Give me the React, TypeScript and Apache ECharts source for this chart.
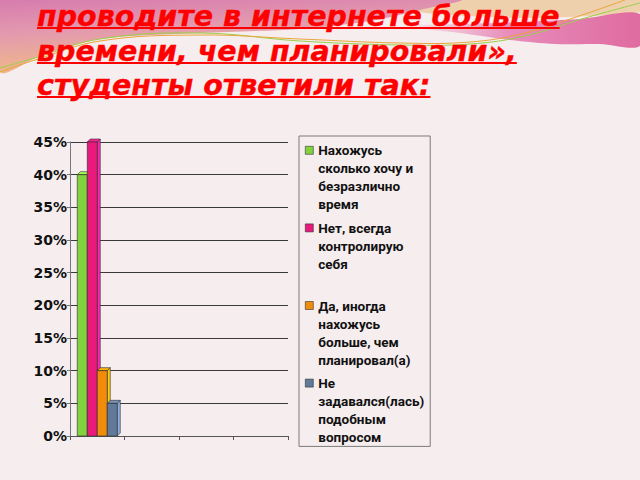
import { useEffect, useRef } from "react";
import * as echarts from "echarts";

// one category holds all four answers, the other slots stay empty
const categories = ["", "", "", ""];
const seriesNames = [
  "Нахожусь\nсколько хочу и\nбезразлично\nвремя",
  "Нет, всегда\nконтролирую\nсебя",
  "Да, иногда\nнахожусь\nбольше, чем\nпланировал(а)",
  "Не\nзадавался(лась)\nподобным\nвопросом",
];
const seriesValues = [40, 45, 10, 5];
const seriesColors = ["#82d13f", "#ea197c", "#f08c0a", "#61799a"];
const titleLines = [
  "проводите в интернете больше",
  "времени, чем планировали»,",
  "студенты ответили так:",
];

const BAR_W = 10;
const DEPTH = 3;
const TITLE_FONT = "italic bold 28.5px 'DejaVu Sans'";

function renderBar(params: any, api: any) {
  const idx = params.seriesIndex;
  const cat = api.value(0);
  const base = api.coord([cat, 0]);
  const top = api.coord([cat, api.value(1)]);
  const x = base[0] - (BAR_W * seriesValues.length) / 2 + idx * BAR_W;
  const y0 = base[1];
  const y1 = top[1];
  const color = seriesColors[idx];
  const stroke = "#2b2b2b";
  return {
    type: "group",
    children: [
      {
        type: "polygon",
        shape: {
          points: [
            [x + BAR_W, y1],
            [x + BAR_W + DEPTH, y1 - DEPTH],
            [x + BAR_W + DEPTH, y0 - DEPTH],
            [x + BAR_W, y0],
          ],
        },
        style: { fill: echarts.color.lift(color, -0.45), stroke, lineWidth: 0.6 },
      },
      {
        type: "polygon",
        shape: {
          points: [
            [x, y1],
            [x + DEPTH, y1 - DEPTH],
            [x + BAR_W + DEPTH, y1 - DEPTH],
            [x + BAR_W, y1],
          ],
        },
        style: { fill: echarts.color.lift(color, -0.25), stroke, lineWidth: 0.6 },
      },
      {
        type: "rect",
        shape: { x, y: y1, width: BAR_W, height: y0 - y1 },
        style: { fill: color, stroke, lineWidth: 0.6 },
      },
    ],
  };
}

export default function App() {
  const chartRef = useRef<HTMLDivElement>(null);

  useEffect(() => {
    if (!chartRef.current) return;
    const chart = echarts.init(chartRef.current, null, { renderer: "svg" });

    // measure title lines so the underlines fit the text
    const ctx = document.createElement("canvas").getContext("2d");
    if (ctx) ctx.font = TITLE_FONT;
    const titleY = [16, 51, 85];
    const titleGraphics: any[] = [];
    titleLines.forEach((line, i) => {
      const w = ctx ? ctx.measureText(line).width : 400;
      titleGraphics.push({
        type: "text",
        x: 37,
        y: titleY[i],
        z: 10,
        style: {
          text: line,
          fill: "#ff0000",
          stroke: "#ff0000",
          lineWidth: 0.4,
          font: TITLE_FONT,
          verticalAlign: "middle",
        },
      });
      titleGraphics.push({
        type: "line",
        z: 10,
        shape: { x1: 37, y1: titleY[i] + 12, x2: 37 + w, y2: titleY[i] + 12 },
        style: { stroke: "#ff0000", lineWidth: 2 },
      });
    });

    const option = {
      animation: false,
      backgroundColor: "#f6edee",
      graphic: [
        {
          type: "polygon",
          z: -5,
          shape: {
            smooth: 0.3,
            points: [
              [0, 0], [460, 0], [420, 10], [370, 21], [300, 29], [200, 33],
              [100, 39], [40, 56], [0, 72],
            ],
          },
          style: {
            fill: new echarts.graphic.LinearGradient(0, 0, 0.25, 1, [
              { offset: 0, color: "#d474ae" },
              { offset: 0.5, color: "#e39aae" },
              { offset: 1, color: "#f0ba86" },
            ]),
          },
        },
        {
          type: "polygon",
          z: -6,
          shape: {
            smooth: 0.3,
            points: [
              [380, 0], [640, 0], [640, 12], [590, 16], [530, 18], [470, 16], [420, 12],
            ],
          },
          style: { fill: "#eed0ac" },
        },
        {
          type: "polygon",
          z: -4,
          shape: {
            smooth: 0.3,
            points: [
              [400, 26], [460, 24], [520, 22], [580, 19], [640, 14],
              [640, 46], [600, 44], [555, 44], [510, 40], [460, 33],
            ],
          },
          style: {
            fill: new echarts.graphic.LinearGradient(0, 0, 1, 0, [
              { offset: 0, color: "rgba(232,150,185,0)" },
              { offset: 0.45, color: "#e78cbb" },
              { offset: 1, color: "#df6a9f" },
            ]),
          },
        },
        {
          type: "polyline",
          z: -3,
          shape: {
            smooth: 0.4,
            points: [
              [0, 68], [35, 58], [100, 39], [200, 33], [300, 41],
              [400, 45], [470, 44], [525, 36], [585, 18], [640, 3],
            ],
          },
          style: { stroke: "#9bd04a", lineWidth: 1, fill: "none" },
        },
        {
          type: "polyline",
          z: -3,
          shape: {
            smooth: 0.4,
            points: [
              [0, 72], [35, 60], [100, 41], [200, 35], [300, 39],
              [400, 43], [470, 42], [525, 33], [585, 14], [625, 0],
            ],
          },
          style: { stroke: "#e8a63a", lineWidth: 1, fill: "none" },
        },
        ...titleGraphics,
      ],
      grid: { left: 70, right: 352, top: 142, bottom: 44 },
      legend: {
        orient: "vertical",
        left: 299,
        top: 136,
        padding: [5, 6, 0, 6],
        itemWidth: 8,
        itemHeight: 72,
        itemGap: 5,
        icon: "path://M0,0M0,72M0,5h8v8h-8z",
        borderColor: "#7a7a7a",
        borderWidth: 1,
        selectedMode: false,
        itemStyle: { borderColor: "#333", borderWidth: 0.6 },
        textStyle: {
          fontFamily: "Roboto",
          fontWeight: "bold",
          fontSize: 13.5,
          lineHeight: 18,
          color: "#111",
        },
        formatter: (name: string) =>
          name.split("\n").length < 4 ? name + "\n " : name,
        data: seriesNames,
      },
      xAxis: {
        type: "category",
        data: categories,
        axisLine: { lineStyle: { color: "#555" } },
        axisTick: { show: true, length: 4, lineStyle: { color: "#555" } },
        axisLabel: { show: false },
        splitLine: { show: false },
      },
      yAxis: {
        type: "value",
        min: 0,
        max: 45,
        interval: 5,
        axisLine: { show: true, lineStyle: { color: "#777" } },
        axisTick: { show: true, length: 3, lineStyle: { color: "#777" } },
        axisLabel: {
          formatter: "{value}%",
          fontFamily: "'DejaVu Sans'",
          fontWeight: "bold",
          fontSize: 14,
          color: "#111",
          margin: 3,
        },
        splitLine: { lineStyle: { color: "#3a3a3a", width: 1 } },
      },
      series: seriesNames.map((name, i) => ({
        name,
        type: "custom",
        renderItem: renderBar,
        itemStyle: { color: seriesColors[i] },
        encode: { x: 0, y: 1 },
        data: [[0, seriesValues[i]]],
      })),
    };

    chart.setOption(option as any);
    return () => {
      chart.dispose();
    };
  }, []);

  return (
    <div
      ref={chartRef}
      style={{ position: "absolute", left: 0, top: 0, width: 640, height: 480 }}
    />
  );
}
